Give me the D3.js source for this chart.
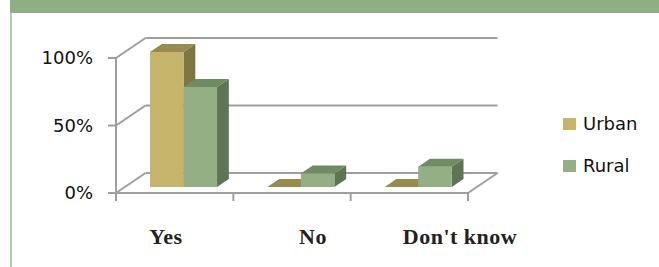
<!DOCTYPE html>
<html><head><meta charset="utf-8">
<script src="https://cdn.jsdelivr.net/npm/d3@7"></script>
<style>html,body{margin:0;padding:0;background:#fff;}svg{display:block;}</style>
</head><body>
<svg id="c" width="659" height="267"></svg>
<script>
const categories = ["Yes", "No", "Don't know"];
const seriesNames = ["Urban", "Rural"];
const urban = [100, 0, 0];
const rural = [74, 10, 15];
const yTicks = [0, 50, 100];
const yTickLabels = ["0%", "50%", "100%"];

const colors = {
  Urban: {front: "#C6B46B", top: "#978B4E", side: "#7F7543"},
  Rural: {front: "#93AF83", top: "#708C65", side: "#5E7455"}
};

const svg = d3.select("#c");
// frame
svg.append("rect").attr("x", 10).attr("y", 0).attr("width", 649).attr("height", 13).attr("fill", "#8FAE84");
svg.append("line").attr("x1", 11).attr("x2", 11).attr("y1", 13).attr("y2", 267).attr("stroke", "#B5CEAE").attr("stroke-width", 2);

const x = d3.scaleBand().domain(categories).range([116, 468]);
const xs = d3.scaleBand().domain(seriesNames).range([0, x.bandwidth()]).paddingInner(0).paddingOuter(0.75);
const y = d3.scaleLinear().domain([0, 100]).range([193, 58]);
const DX = 29.5, DY = -20;
const f1 = 0.3, f2 = 0.7;
const grid = "#9E9E9E";

const g = svg.append("g");
// walls
yTicks.forEach(t => {
  const yy = y(t);
  g.append("line").attr("x1", x.range()[0]).attr("y1", yy).attr("x2", x.range()[0] + DX).attr("y2", yy + DY)
    .attr("stroke", grid).attr("stroke-width", 2);
  g.append("line").attr("x1", x.range()[0] + DX).attr("y1", yy + DY).attr("x2", x.range()[1] + DX).attr("y2", yy + DY)
    .attr("stroke", grid).attr("stroke-width", 2);
});
// floor
g.append("line").attr("x1", x.range()[1]).attr("y1", y(0)).attr("x2", x.range()[1] + DX).attr("y2", y(0) + DY)
  .attr("stroke", grid).attr("stroke-width", 2);
g.append("line").attr("x1", x.range()[0]).attr("y1", y(0)).attr("x2", x.range()[1]).attr("y2", y(0))
  .attr("stroke", grid).attr("stroke-width", 2);
// y axis
g.append("line").attr("x1", x.range()[0]).attr("x2", x.range()[0]).attr("y1", y(100)).attr("y2", y(0) + 8)
  .attr("stroke", grid).attr("stroke-width", 2);
yTicks.forEach((t, i) => {
  g.append("line").attr("x1", x.range()[0] - 8).attr("x2", x.range()[0]).attr("y1", y(t)).attr("y2", y(t))
    .attr("stroke", grid).attr("stroke-width", 2);
  g.append("text").attr("x", 93).attr("y", y(t)).attr("dy", "0.36em").attr("text-anchor", "end")
    .attr("font-family", "DejaVu Sans").attr("font-size", 18).attr("fill", "#111").text(yTickLabels[i]);
});
// x ticks
categories.concat(["__end"]).forEach((c, i) => {
  const xx = i < categories.length ? x(c) : x.range()[1];
  g.append("line").attr("x1", xx).attr("x2", xx).attr("y1", y(0)).attr("y2", y(0) + 8)
    .attr("stroke", grid).attr("stroke-width", 2);
});

// bars
const data = [];
categories.forEach((c, i) => {
  data.push({cat: c, s: "Urban", v: urban[i]});
  data.push({cat: c, s: "Rural", v: rural[i]});
});
const bars = g.append("g");
data.forEach(d => {
  const x0 = x(d.cat) + xs(d.s) + DX * f1;
  const x1 = x0 + xs.bandwidth();
  const yb = y(0) + DY * f1;
  const yt = y(d.v) + DY * f1;
  const ddx = DX * (f2 - f1), ddy = DY * (f2 - f1);
  const col = colors[d.s];
  bars.append("path").attr("d", `M${x1},${yt}L${x1 + ddx},${yt + ddy}L${x1 + ddx},${yb + ddy}L${x1},${yb}Z`)
    .attr("fill", col.side);
  bars.append("path").attr("d", `M${x0},${yt}L${x1},${yt}L${x1},${yb}L${x0},${yb}Z`).attr("fill", col.front);
  bars.append("path").attr("d", `M${x0},${yt}L${x1},${yt}L${x1 + ddx},${yt + ddy}L${x0 + ddx},${yt + ddy}Z`)
    .attr("fill", col.top);
});

// category labels
const xl = d3.scalePoint().domain(categories).range([166, 460]);
categories.forEach(c => {
  svg.append("text").attr("x", xl(c)).attr("y", 244).attr("text-anchor", "middle")
    .attr("font-family", "Liberation Serif").attr("font-weight", "bold").attr("font-size", 22)
    .attr("letter-spacing", "0.5px").attr("fill", "#222").text(c);
});

// legend
const ly = d3.scalePoint().domain(seriesNames).range([124, 166]);
seriesNames.forEach(s => {
  svg.append("rect").attr("x", 563).attr("y", ly(s) - 6).attr("width", 13).attr("height", 12).attr("fill", colors[s].front);
  svg.append("text").attr("x", 583).attr("y", ly(s)).attr("dy", "0.36em")
    .attr("font-family", "DejaVu Sans").attr("font-size", 18).attr("fill", "#111").text(s);
});
</script>
</body></html>
